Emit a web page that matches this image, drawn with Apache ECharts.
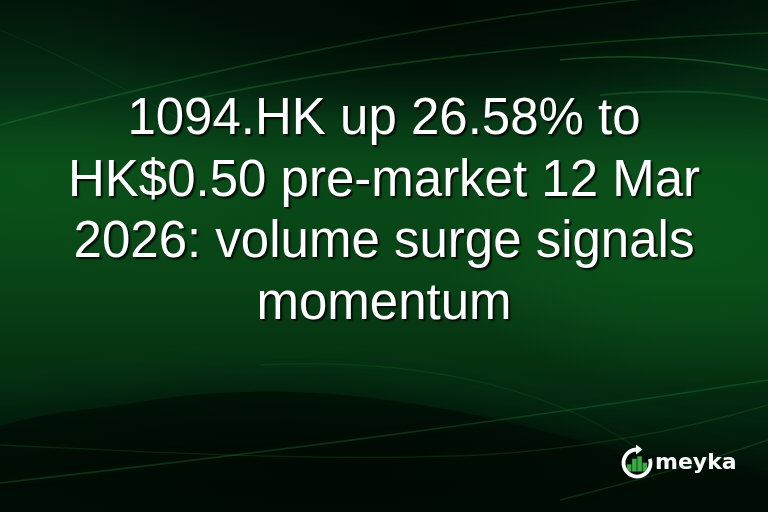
<!DOCTYPE html>
<html><head><meta charset="utf-8">
<script src="https://cdn.jsdelivr.net/npm/echarts@6/dist/echarts.min.js"></script>
<style>html,body{margin:0;padding:0;background:#021a0a;overflow:hidden}#c{width:768px;height:512px}</style>
</head><body><div id="c"></div>
<script>
// Content
const titleLines = ['1094.HK up 26.58% to', 'HK$0.50 pre-market 12 Mar', '2026: volume surge signals', 'momentum'];
const brandName = 'meyka';
const logoBars = [0.45, 0.8, 0.95, 0.55];

const W = 768, H = 512;
const chart = echarts.init(document.getElementById('c'), null, {renderer: 'canvas', width: W, height: H});

// decorative streak: cubic bezier [x1,y1,cx1,cy1,cx2,cy2,x2,y2]
const streak = (p, a, w) => ({
  type: 'bezierCurve', silent: true,
  shape: {x1: p[0], y1: p[1], cpx1: p[2], cpy1: p[3], cpx2: p[4], cpy2: p[5], x2: p[6], y2: p[7]},
  style: {fill: null, stroke: 'rgba(70,190,90,' + a + ')', lineWidth: w || 1.5,
          shadowBlur: 10, shadowColor: 'rgba(60,200,90,0.5)'}
});
const glow = (x, y, r, sx, sy, rgb, a) => ({
  type: 'circle', shape: {cx: 0, cy: 0, r: r}, x: x, y: y, scaleX: sx, scaleY: sy, silent: true,
  style: {fill: new echarts.graphic.RadialGradient(0.5, 0.5, 0.5, [
    {offset: 0, color: 'rgba(' + rgb + ',' + a + ')'},
    {offset: 0.55, color: 'rgba(' + rgb + ',' + (a * 0.6) + ')'},
    {offset: 1, color: 'rgba(' + rgb + ',0)'}])}
});

const graphics = [
  {type: 'rect', shape: {x: 0, y: 0, width: W, height: H}, silent: true,
   style: {fill: new echarts.graphic.LinearGradient(0, 0, 0, 1, [
     {offset: 0, color: '#021509'},
     {offset: 0.18, color: '#052f14'},
     {offset: 0.33, color: '#094a18'},
     {offset: 0.55, color: '#084316'},
     {offset: 0.75, color: '#042c10'},
     {offset: 0.9, color: '#02170a'},
     {offset: 1, color: '#010c05'}
   ])}},
  glow(700, 250, 200, 1.3, 0.7, '14,95,30', 0.5),
  glow(30, 185, 180, 1.4, 0.5, '14,90,28', 0.45),
  glow(430, 15, 200, 1.9, 0.55, '0,8,3', 0.9),
  // dark bottom hump
  {type: 'polygon', silent: true,
   shape: {smooth: 0.35, points: [[-40, 448], [140, 402], [290, 392], [450, 410], [620, 450], [810, 488], [810, 560], [-40, 560]]},
   style: {fill: 'rgba(0,12,4,0.72)', shadowBlur: 40, shadowColor: 'rgba(0,12,4,0.9)'}},
  glow(330, 470, 200, 1.6, 0.35, '0,8,3', 0.6),
  // streaks
  streak([0, 125, 200, 72, 420, 22, 670, -4], 0.2, 1.6),
  streak([200, 98, 350, 66, 550, 40, 768, 33], 0.22, 1.6),
  streak([560, 60, 640, 52, 710, 60, 768, 70], 0.3, 1.4),
  streak([600, 95, 680, 88, 730, 92, 768, 100], 0.18, 2),
  streak([0, 30, 60, 55, 120, 85, 180, 120], 0.1, 1),
  streak([0, 483, 200, 460, 450, 430, 768, 380], 0.2, 1.6),
  streak([0, 445, 150, 452, 320, 462, 480, 455], 0.14, 1.4),
  streak([480, 455, 600, 448, 700, 425, 768, 405], 0.14, 1.4),
  streak([260, 365, 400, 358, 540, 380, 640, 450], 0.1, 1.4),
  streak([560, 500, 640, 480, 710, 460, 768, 440], 0.18, 1.4)
];

// title text
titleLines.forEach((line, i) => {
  graphics.push({
    type: 'text', silent: true, x: W / 2, y: 120 + i * 61.7,
    style: {text: line, fill: '#ffffff', font: '51px "Liberation Sans", Arial, sans-serif',
            align: 'center', verticalAlign: 'middle', textAlign: 'center', textVerticalAlign: 'middle',
            textShadowColor: 'rgba(0,0,0,0.85)', textShadowBlur: 2, textShadowOffsetX: 2, textShadowOffsetY: 2}
  });
});

// logo icon
const icx = 637, icy = 463, ir = 13.5;
const barW = 4.6, gap = 0.6;
const barsStart = icx - (logoBars.length * barW + (logoBars.length - 1) * gap) / 2;
logoBars.forEach((h, i) => {
  const bh = h * 16;
  graphics.push({type: 'rect', silent: true,
    shape: {x: barsStart + i * (barW + gap), y: icy + 8.5 - bh, width: barW, height: bh},
    style: {fill: '#3aa844'}});
});
graphics.push({type: 'arc', silent: true,
  shape: {cx: icx, cy: icy, r: ir, startAngle: -Math.PI * 0.1, endAngle: Math.PI * 1.5, clockwise: true},
  style: {stroke: '#ffffff', lineWidth: 3.8, fill: null}});
graphics.push({type: 'polygon', silent: true,
  shape: {points: [[icx - 1, icy - ir - 5], [icx + 5.5, icy - ir], [icx - 1, icy - ir + 5]]},
  style: {fill: '#ffffff'}});
graphics.push({type: 'text', silent: true, x: 655, y: 463,
  style: {text: brandName, fill: '#ffffff', font: 'bold 22px "DejaVu Sans", sans-serif',
          align: 'left', verticalAlign: 'middle', textAlign: 'left', textVerticalAlign: 'middle'}});

chart.setOption({animation: false, backgroundColor: '#021a0a', graphic: {elements: graphics}});
</script></body></html>
